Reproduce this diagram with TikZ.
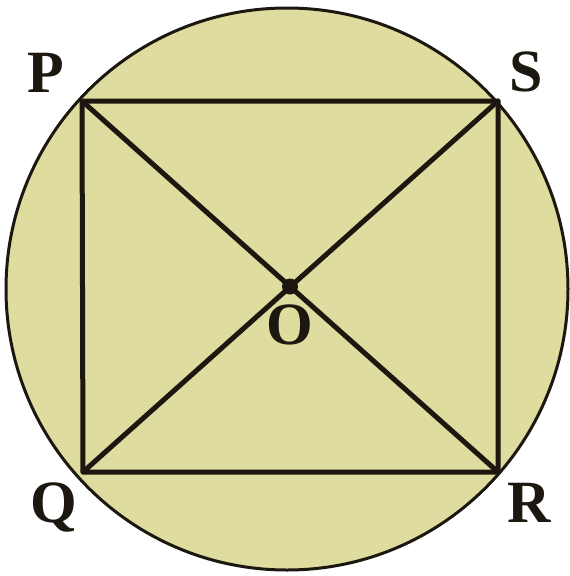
\documentclass[tikz,border=0pt]{standalone}
\usepackage{fontspec}
\setmainfont{Liberation Serif}
\definecolor{disc}{RGB}{222,220,158}
\definecolor{ink}{RGB}{28,24,16}
\begin{document}
\begin{tikzpicture}[x=1pt,y=-1pt,
  lbl/.style={font=\fontsize{60}{60}\selectfont\bfseries, text=ink, inner sep=0pt},
  edge/.style={draw=ink, line width=5pt, line cap=round}]
\useasboundingbox (0,0) rectangle (570,576);
\draw[fill=disc, draw=ink, line width=3pt] (287,289) circle [radius=281];
\coordinate (P) at (82,101);
\coordinate (S) at (498,101);
\coordinate (Q) at (83,472);
\coordinate (R) at (498,472);
\draw[edge, line join=round] (P) -- (S) -- (R) -- (Q) -- cycle;
\draw[edge] (P) -- (R);
\draw[edge] (S) -- (Q);
\path (P) -- (R) coordinate[pos=0.5] (O);
\fill[ink] (O) circle [radius=8];
\node[lbl] (lP) at (46,73) {P};
\node[lbl] (lS) at (526,72) {S};
\node[lbl] (lQ) at (54,507) {Q};
\node[lbl] (lR) at (529,503) {R};
\node[lbl] (lO) at (290,325) {O};
\end{tikzpicture}
\end{document}
